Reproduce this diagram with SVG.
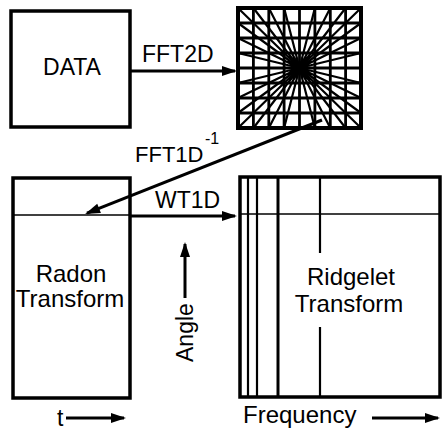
<svg xmlns="http://www.w3.org/2000/svg" width="442" height="432" viewBox="0 0 442 432">
<defs>
<marker id="ah" markerUnits="userSpaceOnUse" markerWidth="16" markerHeight="11" refX="13" refY="5" orient="auto" viewBox="0 0 16 10" overflow="visible">
<path d="M0,0 L15,5 L0,10 z" fill="#000"/>
</marker>
<style>
text{font-family:"Liberation Sans",Arial,sans-serif;fill:#000}
.box{fill:#fff;stroke:#000;stroke-width:3.5}
.thin{stroke:#000;stroke-width:1.5;fill:none}
.mid{stroke:#000;stroke-width:2.2;fill:none}
.grid{stroke:#000;stroke-width:2.8;fill:none}
.arr{stroke:#000;stroke-width:3;fill:none;marker-end:url(#ah)}
.lbl{font-size:23px}
</style>
</defs>
<rect width="442" height="432" fill="#fff"/>

<g id="data">
<rect class="box" x="11" y="11" width="119" height="116"/>
<text class="lbl" x="72" y="75" text-anchor="middle">DATA</text>
</g>

<g id="fft-grid">
<rect x="238" y="8" width="123" height="120" fill="#fff"/>
<g class="grid">
<path d="M253.4,8V128M268.8,8V128M284.1,8V128M299.5,8V128M314.9,8V128M330.3,8V128M345.6,8V128"/>
<path d="M238,23H361M238,38H361M238,53H361M238,68H361M238,83H361M238,98H361M238,113H361"/>
</g>
<g stroke="#000" stroke-width="2.2" fill="none">
<path d="M238,8L361,128M253.4,8L345.6,128M268.8,8L330.3,128M284.1,8L314.9,128M314.9,8L284.1,128M330.3,8L268.8,128M345.6,8L253.4,128M361,8L238,128"/>
<path d="M238,23L361,113M238,38L361,98M238,53L361,83M238,83L361,53M238,98L361,38M238,113L361,23"/>
</g>
<rect x="238" y="8" width="123" height="120" fill="none" stroke="#000" stroke-width="4"/>
</g>

<g id="radon">
<rect class="box" x="13" y="178" width="117" height="220"/>
<line class="thin" x1="13" y1="215" x2="130" y2="215"/>
<text font-size="24" x="71" y="282" text-anchor="middle">Radon</text>
<text font-size="24" x="70" y="307" text-anchor="middle">Transform</text>
</g>

<g id="ridgelet">
<rect class="box" x="240" y="177" width="200" height="220"/>
<line class="thin" x1="240" y1="214" x2="440" y2="214"/>
<line class="mid" x1="248" y1="177" x2="248" y2="397"/>
<line class="mid" x1="257" y1="177" x2="257" y2="397"/>
<line stroke="#000" stroke-width="3" x1="278" y1="177" x2="278" y2="397"/>
<line class="mid" x1="320" y1="177" x2="320" y2="253"/>
<line class="mid" x1="320" y1="327" x2="320" y2="397"/>
<text font-size="24" x="351" y="285" text-anchor="middle">Ridgelet</text>
<text font-size="24" x="349" y="312" text-anchor="middle">Transform</text>
</g>

<g id="connectors">
<line class="arr" x1="130" y1="71" x2="235" y2="71"/>
<line class="arr" x1="322" y1="120" x2="87" y2="213.2"/>
<line class="arr" x1="130" y1="216" x2="235" y2="216"/>
<line class="arr" x1="185" y1="298" x2="185" y2="244"/>
<line class="arr" x1="66" y1="418" x2="124" y2="418"/>
<line class="arr" x1="372" y1="418" x2="438" y2="418"/>
</g>

<g id="labels">
<text class="lbl" x="142" y="62">FFT2D</text>
<text font-size="22" x="135" y="162">FFT1D</text>
<text font-size="16" x="205" y="144">-1</text>
<text class="lbl" x="155" y="208">WT1D</text>
<text class="lbl" transform="translate(193,362) rotate(-90)">Angle</text>
<text class="lbl" x="57" y="426">t</text>
<text font-size="24" x="243" y="423">Frequency</text>
</g>
</svg>
